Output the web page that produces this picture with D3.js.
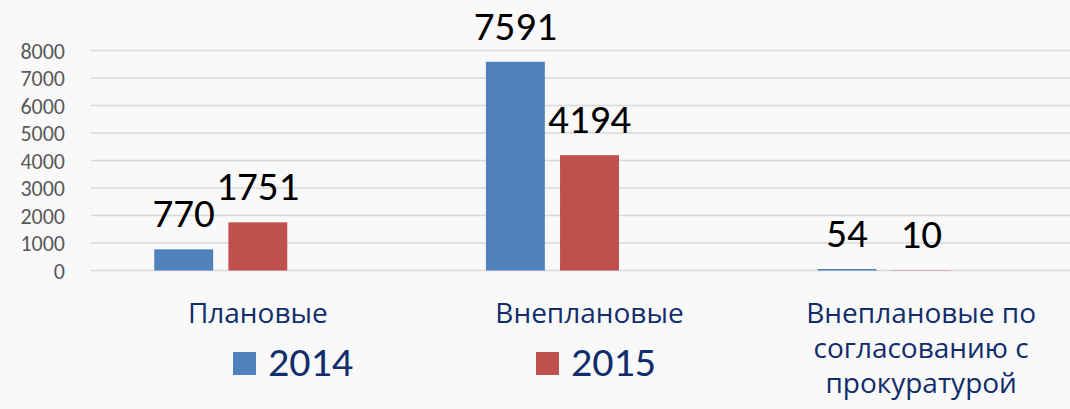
<!DOCTYPE html>
<html>
<head>
<meta charset="utf-8">
<script src="https://cdn.jsdelivr.net/npm/d3@7"></script>
<style>
  html, body { margin: 0; padding: 0; background: #f9f9f9; }
  svg { display: block; }
</style>
</head>
<body>
<svg id="chart" width="1070" height="409"></svg>
<script>
// Inspection counts by type, 2014 vs 2015
const categories = ["Плановые", "Внеплановые", "Внеплановые по согласованию с прокуратурой"];
const categoryLines = [["Плановые"], ["Внеплановые"], ["Внеплановые по", "согласованию с", "прокуратурой"]];
const seriesNames = ["2014", "2015"];
const values2014 = [770, 7591, 54];
const values2015 = [1751, 4194, 10];
const yTicks = [0, 1000, 2000, 3000, 4000, 5000, 6000, 7000, 8000];
const colors = { "2014": "#4f81bd", "2015": "#c0504d" };

const numFont = "Carlito, Calibri, Lato, sans-serif";
const textFont = "'Open Sans', 'Noto Sans', sans-serif";
const labelColor = "#112d6b";

const svg = d3.select("#chart");

const y = d3.scaleLinear().domain([0, 8000]).range([270.5, 50.5]);
const x0 = d3.scaleBand().domain(categories).range([92, 1087]);
// third slot kept empty, as in the original layout
const x1 = d3.scaleBand().domain([...seriesNames, "_"]).range([0, x0.bandwidth()])
  .paddingInner(0.205).paddingOuter(0.84);

// gridlines
svg.append("g").selectAll("line").data(yTicks).join("line")
  .attr("x1", 91).attr("x2", 1070)
  .attr("y1", d => y(d)).attr("y2", d => y(d))
  .attr("stroke", "#d9d9d9").attr("stroke-width", 1.5);

// y axis labels
const yAxis = d3.axisLeft(y).tickValues(yTicks).tickFormat(d3.format("d")).tickSize(0).tickPadding(0);
const yg = svg.append("g").attr("transform", "translate(65,0)").call(yAxis);
yg.select(".domain").remove();
yg.selectAll("text")
  .attr("font-family", numFont).attr("font-size", 22).attr("fill", "#595959")
  .attr("dy", "0.35em");

const rows = categories.map((c, i) => ({ cat: c, "2014": values2014[i], "2015": values2015[i] }));

const groups = svg.append("g").selectAll("g").data(rows).join("g")
  .attr("transform", d => `translate(${x0(d.cat)},0)`);

groups.selectAll("rect").data(d => seriesNames.map(s => ({ s, v: d[s] }))).join("rect")
  .attr("x", d => x1(d.s)).attr("width", x1.bandwidth())
  .attr("y", d => y(d.v)).attr("height", d => y(0) - y(d.v))
  .attr("fill", d => colors[d.s]);

groups.selectAll("text.val").data(d => seriesNames.map(s => ({ s, v: d[s] }))).join("text")
  .attr("class", "val")
  .attr("x", d => x1(d.s) + x1.bandwidth() / 2)
  .attr("y", d => y(d.v) - 22)
  .attr("text-anchor", "middle")
  .attr("font-family", numFont).attr("font-size", 41).attr("fill", "#000")
  .text(d => d.v);

// category labels
const cat = svg.append("g").selectAll("text").data(categories).join("text")
  .attr("x", d => x0(d) + x0.bandwidth() / 2)
  .attr("y", 323)
  .attr("text-anchor", "middle")
  .attr("font-family", textFont).attr("font-size", 28).attr("fill", labelColor);
cat.each(function (d, i) {
  d3.select(this).selectAll("tspan").data(categoryLines[i]).join("tspan")
    .attr("x", x0(d) + x0.bandwidth() / 2)
    .attr("dy", (t, j) => j === 0 ? 0 : 35)
    .text(t => t);
});

// legend
const legend = svg.append("g").selectAll("g").data(seriesNames).join("g")
  .attr("transform", (d, i) => `translate(${[233, 536][i]},352)`);
legend.append("rect").attr("width", 23).attr("height", 23).attr("fill", d => colors[d]);
legend.append("text").attr("x", 35).attr("y", 24)
  .attr("font-family", numFont).attr("font-size", 42).attr("fill", labelColor)
  .text(d => d);
</script>
</body>
</html>
